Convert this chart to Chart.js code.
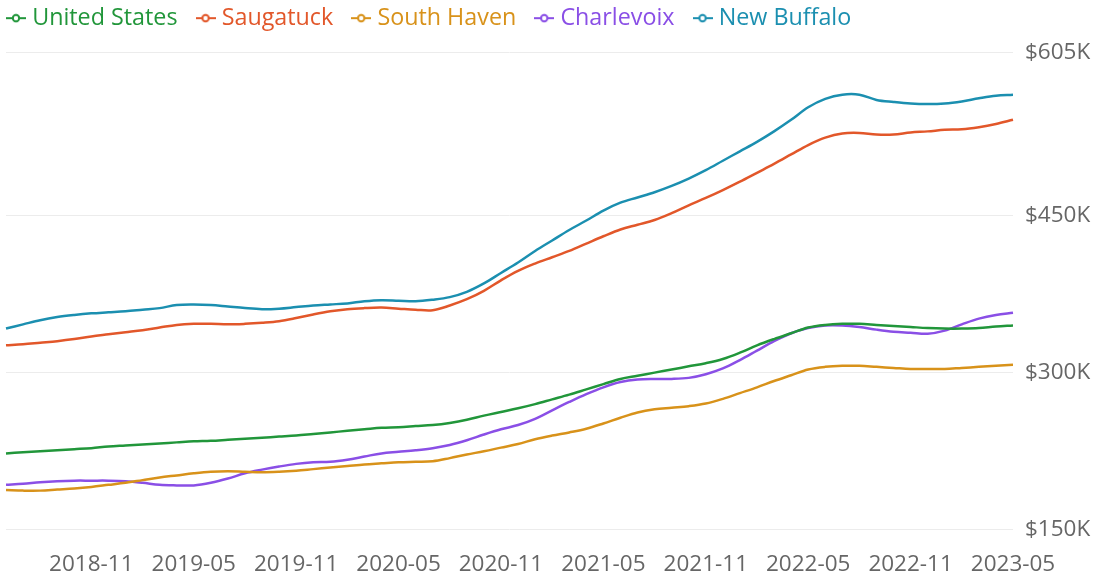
<!DOCTYPE html>
<html>
<head>
<meta charset="utf-8">
<script src="https://cdn.jsdelivr.net/npm/chart.js@4.4.1/dist/chart.umd.min.js"></script>
<style>
  html, body { margin: 0; padding: 0; background: #fff; }
  #wrap { width: 1098px; height: 581px; position: relative; }
</style>
</head>
<body>
<div id="wrap"><canvas id="homeChart"></canvas></div>
<script>
// months on the x axis (2018-06 .. 2023-05)
const labels = [
"2018-06","2018-07","2018-08","2018-09","2018-10","2018-11","2018-12",
"2019-01","2019-02","2019-03","2019-04","2019-05","2019-06","2019-07","2019-08","2019-09","2019-10","2019-11","2019-12",
"2020-01","2020-02","2020-03","2020-04","2020-05","2020-06","2020-07","2020-08","2020-09","2020-10","2020-11","2020-12",
"2021-01","2021-02","2021-03","2021-04","2021-05","2021-06","2021-07","2021-08","2021-09","2021-10","2021-11","2021-12",
"2022-01","2022-02","2022-03","2022-04","2022-05","2022-06","2022-07","2022-08","2022-09","2022-10","2022-11","2022-12",
"2023-01","2023-02","2023-03","2023-04","2023-05"
];

// y axis ticks, in $K
const yTicks = [150, 300, 450, 605];

// home values, $K
const unitedStates = [
223,224,225,226,227,228,229.5,230.5,231.5,232.5,233.5,234.5,235,236,237,238,239,240,241.5,243,
244.5,246,247.5,248,249,250,252,255,259,262.5,266,270,274.5,279,284,289,294,297,300,303,
306,309,313,319,326,332,337.5,343,345.5,346.5,346.5,345.5,344.5,343.5,342.5,342,342,342.5,344,345
];
const saugatuck = [
326,327,328.5,330,332,334.5,336.5,338.5,340.5,343,345.5,346.5,346.5,346,346.5,347.5,349,352,355.5,358.5,
360.5,361.5,362,361,360,359.5,364,370,378,388,397,404,410,416,423,430,436.5,441,445.5,452,
459.5,466.5,474,482,490.5,499,508,517,524,528,528.5,527,527,529,530,531.5,532,534,537,541
];
const southHaven = [
188,187.5,187.5,188.5,189.5,191,193,195,197.5,200,202,204,205.5,206,205.5,205,205.5,206.5,208,209.5,
211,212.5,213.5,214.5,215,215.5,218.5,222,225,228.5,232,236.5,240,243,246.5,251.5,257,262,265,266.5,
268,270.5,275,280.5,286,292,297.5,303,305.5,306.5,306.5,305.5,304.5,303.5,303.5,303.5,304.5,305.5,306.5,307.5
];
const charlevoix = [
193,194,195.5,196.5,197,197,197,196.5,195,193,192.5,192.5,195,199,204,207.5,210.5,213,214.5,215,
217,220,223,224.5,226,228,231,235.5,241,246,250,256,264,272,279.5,286,291,293.5,294,294,
295,298.5,304,312,321,330,337.5,342.5,345,345,343.5,341,339,338,337,340,346,351.5,355,357
];
const newBuffalo = [
342,346,350,353,355,356.5,357.5,358.5,360,361.5,364.5,365,364.5,363,361.5,360.5,361,362.5,364,365,
366,368,369,368.5,368,369.5,372,377,385,395,405,416,426,436,445,454.5,462,467,472,478,
485,493,502,511,520,530,541,553,561,565,565,560,558,556.5,556,556.5,558.5,561.5,564,565
];

const seriesNames = ["United States", "Saugatuck", "South Haven", "Charlevoix", "New Buffalo"];
const seriesColors = ["#21963a", "#e2572a", "#d8921a", "#8a4fe6", "#1b8fb0"];
const seriesData = [unitedStates, saugatuck, southHaven, charlevoix, newBuffalo];

// little line-with-circle legend marker
function legendMarker(color) {
  const c = document.createElement('canvas');
  c.width = 20; c.height = 10;
  const g = c.getContext('2d');
  g.strokeStyle = color;
  g.lineWidth = 2;
  g.beginPath(); g.moveTo(0, 5); g.lineTo(20, 5); g.stroke();
  g.beginPath(); g.arc(10, 5, 3.2, 0, Math.PI * 2);
  g.fillStyle = '#fff'; g.fill(); g.stroke();
  return c;
}

// fixed legend height + pull it up/left a bit
const legendNudge = {
  id: 'legendNudge',
  beforeInit(chart) {
    const fit = chart.legend.fit;
    chart.legend.fit = function () {
      fit.call(this);
      this.height = 44;
    };
  },
  afterLayout(chart) {
    chart.legend.left -= 18;
    chart.legend.top -= 17;
  }
};

const family = "'Open Sans', 'Noto Sans', sans-serif";
const tickFont = { family: family, size: 22.5 };
const legendFont = { family: family, size: 23.3 };

const ctx = document.getElementById('homeChart').getContext('2d');

new Chart(ctx, {
  type: 'line',
  data: {
    labels: labels,
    datasets: seriesNames.map((name, i) => ({
      label: name,
      data: seriesData[i],
      borderColor: seriesColors[i],
      backgroundColor: seriesColors[i],
      borderWidth: 2.5,
      pointRadius: 0,
      pointStyle: legendMarker(seriesColors[i]),
      tension: 0.35,
      fill: false
    }))
  },
  options: {
    responsive: true,
    maintainAspectRatio: false,
    animation: false,
    layout: { padding: { left: 6, right: 0, top: 0, bottom: 0 } },
    plugins: {
      tooltip: { enabled: false },
      legend: {
        position: 'top',
        align: 'start',
        labels: {
          usePointStyle: true,
          pointStyleWidth: 9,
          padding: 23.5,
          font: legendFont,
          generateLabels(chart) {
            const items = Chart.defaults.plugins.legend.labels.generateLabels(chart);
            items.forEach(it => { it.fontColor = seriesColors[it.datasetIndex]; });
            return items;
          }
        }
      }
    },
    scales: {
      x: {
        grid: { display: false, drawTicks: false },
        border: { display: false },
        afterFit: s => { s.height = 33; },
        ticks: {
          autoSkip: false,
          maxRotation: 0,
          padding: 3,
          color: '#666',
          font: tickFont,
          callback: function (value, index) {
            const m = labels[index].slice(5);
            return (m === '05' || m === '11') ? labels[index] : '';
          }
        }
      },
      y: {
        position: 'right',
        min: 132.8,
        max: 613.3,
        grid: { color: '#ececec', lineWidth: 1, drawTicks: false },
        border: { display: false },
        afterBuildTicks: s => { s.ticks = yTicks.map(v => ({ value: v })); },
        afterFit: s => { s.width = 85; },
        ticks: {
          padding: 12,
          color: '#666',
          font: tickFont,
          callback: v => '$' + v + 'K'
        }
      }
    }
  },
  plugins: [legendNudge]
});
</script>
</body>
</html>
